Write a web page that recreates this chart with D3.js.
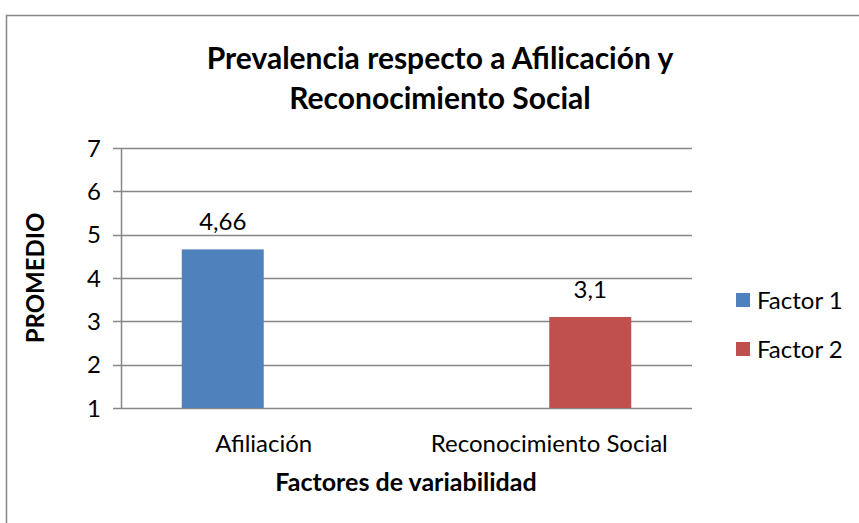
<!DOCTYPE html>
<html>
<head>
<meta charset="utf-8">
<script src="https://d3js.org/d3.v7.min.js"></script>
<style>
  body { margin: 0; background: #fff; }
  text { font-family: Lato, "Open Sans", sans-serif; fill: #000; }
</style>
</head>
<body>
<div id="chart"></div>
<script>
// data
var categories = ["Afiliación", "Reconocimiento Social"];
var series = ["Factor 1", "Factor 2"];
var factor1 = [4.66, null];
var factor2 = [null, 3.1];
var valueLabels = ["4,66", "3,1"];
var yTicks = [1, 2, 3, 4, 5, 6, 7];
var colors = ["#4F81BD", "#C0504D"];

var width = 859, height = 523;
var plot = {left: 121, right: 692, top: 148, bottom: 408};

var svg = d3.select("#chart").append("svg")
    .attr("width", width)
    .attr("height", height);

// chart border
svg.append("rect")
    .attr("x", 6.5).attr("y", 15.5)
    .attr("width", 900).attr("height", 600)
    .attr("fill", "none")
    .attr("stroke", "#868686")
    .attr("stroke-width", 1.5);

var y = d3.scaleLinear().domain([1, 7]).range([plot.bottom, plot.top]);

var x0 = d3.scaleBand()
    .domain(categories)
    .range([plot.left, plot.right])
    .paddingInner(0.4256)
    .paddingOuter(0.2128);

var x1 = d3.scaleBand()
    .domain(series)
    .range([0, x0.bandwidth()]);

// gridlines + ticks
svg.append("g")
  .selectAll("line")
  .data(yTicks)
  .join("line")
    .attr("x1", plot.left - 8)
    .attr("x2", plot.right)
    .attr("y1", d => Math.round(y(d)) + 0.5)
    .attr("y2", d => Math.round(y(d)) + 0.5)
    .attr("stroke", "#868686")
    .attr("stroke-width", 1.5);

// vertical axis line
svg.append("line")
    .attr("x1", plot.left + 0.5).attr("x2", plot.left + 0.5)
    .attr("y1", plot.top).attr("y2", plot.bottom)
    .attr("stroke", "#868686")
    .attr("stroke-width", 1.5);

// y tick labels
svg.append("g")
  .selectAll("text")
  .data(yTicks)
  .join("text")
    .attr("x", 101)
    .attr("y", d => y(d))
    .attr("dy", "0.36em")
    .attr("text-anchor", "end")
    .style("font-size", "24px")
    .text(d => d);

// bars
var rows = categories.map(function(c, i) {
  return {cat: c, vals: [factor1[i], factor2[i]], label: valueLabels[i]};
});

var groups = svg.append("g")
  .selectAll("g")
  .data(rows)
  .join("g")
    .attr("transform", d => "translate(" + x0(d.cat) + ",0)");

groups.selectAll("rect")
  .data(d => d.vals.map((v, j) => ({key: series[j], v: v, j: j})).filter(e => e.v != null))
  .join("rect")
    .attr("x", d => x1(d.key))
    .attr("y", d => y(d.v))
    .attr("width", x1.bandwidth())
    .attr("height", d => y(1) - y(d.v))
    .attr("fill", d => colors[d.j]);

groups.selectAll("text")
  .data(d => d.vals.map((v, j) => ({key: series[j], v: v, label: d.label})).filter(e => e.v != null))
  .join("text")
    .attr("x", d => x1(d.key) + x1.bandwidth() / 2)
    .attr("y", d => y(d.v) - 19)
    .attr("text-anchor", "middle")
    .style("font-size", "24px")
    .text(d => d.label);

// x category labels
svg.append("g")
  .selectAll("text")
  .data(categories)
  .join("text")
    .attr("x", d => x0(d) + x0.bandwidth() / 2)
    .attr("y", 452)
    .attr("text-anchor", "middle")
    .style("font-size", "24px")
    .text(d => d);

// title
svg.append("text")
    .attr("x", 440).attr("y", 69)
    .attr("text-anchor", "middle")
    .style("font-size", "30px").style("font-weight", "bold")
    .text("Prevalencia respecto a Afilicación y");
svg.append("text")
    .attr("x", 440).attr("y", 109)
    .attr("text-anchor", "middle")
    .style("font-size", "30px").style("font-weight", "bold")
    .text("Reconocimiento Social");

// axis titles
svg.append("text")
    .attr("transform", "translate(44,278) rotate(-90)")
    .attr("text-anchor", "middle")
    .style("font-size", "24px").style("font-weight", "bold")
    .text("PROMEDIO");

svg.append("text")
    .attr("x", 406).attr("y", 491)
    .attr("text-anchor", "middle")
    .style("font-size", "25px").style("font-weight", "bold")
    .text("Factores de variabilidad");

// legend
var legend = svg.append("g")
  .selectAll("g")
  .data(series)
  .join("g")
    .attr("transform", (d, i) => "translate(736," + (293 + i * 49) + ")");
legend.append("rect")
    .attr("width", 14).attr("height", 14)
    .attr("fill", (d, i) => colors[i]);
legend.append("text")
    .attr("x", 21).attr("y", 7)
    .attr("dy", "0.36em")
    .style("font-size", "24px")
    .text(d => d);
</script>
</body>
</html>
